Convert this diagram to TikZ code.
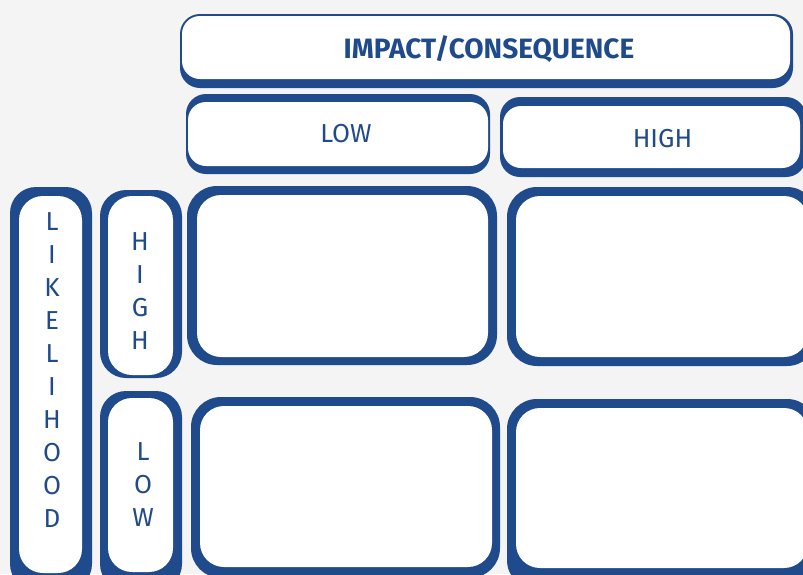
\documentclass[tikz,border=0pt]{standalone}
\usepackage{fontspec}
\setmainfont{Fira Sans}
\definecolor{bb}{HTML}{1F4A8B}
\definecolor{bgc}{HTML}{F4F4F4}
\begin{document}
\begin{tikzpicture}[x=1pt,y=-1pt,
  outerbox/.style={fill=bb, rounded corners=#1},
  innerbox/.style={fill=white, rounded corners=#1},
  headtxt/.style={text=bb, inner sep=0pt, anchor=base, font=\fontsize{26}{30}\selectfont},
  vtxt/.style={text=bb, inner sep=0pt, anchor=north, align=center, font=\fontsize{26}{33}\selectfont}]
\useasboundingbox (0,0) rectangle (803,574);
\clip (0,0) rectangle (803,574);
\fill[bgc] (0,0) rectangle (803,574);
% impact header
\fill[outerbox=20] (180,14) rectangle (793,88);
\fill[innerbox=18] (182,16) rectangle (790,79);
% low / high headers
\fill[outerbox=20] (186,94) rectangle (490,174);
\fill[innerbox=18] (188,102) rectangle (488,166);
\fill[outerbox=20] (500,97) rectangle (806,177);
\fill[innerbox=18] (503,106) rectangle (800,168);
% likelihood column
\fill[outerbox=26] (10,187) rectangle (92,590);
\fill[innerbox=24] (19,196) rectangle (82,573);
% high / low rows
\fill[outerbox=26] (100,190) rectangle (182,378);
\fill[innerbox=24] (108,196) rectangle (173,375);
\fill[outerbox=26] (100,391) rectangle (182,590);
\fill[innerbox=24] (108,398) rectangle (173,572);
% cells
\fill[outerbox=30] (187,186) rectangle (497,365);
\fill[innerbox=24] (197,195) rectangle (488,357);
\fill[outerbox=30] (507,187) rectangle (817,366);
\fill[innerbox=24] (516,196) rectangle (808,357);
\fill[outerbox=30] (191,397) rectangle (500,578);
\fill[innerbox=24] (200,406) rectangle (492,567);
\fill[outerbox=30] (507,399) rectangle (817,590);
\fill[innerbox=24] (516,408) rectangle (808,568);
% texts
\node[headtxt, font=\fontsize{28}{32}\selectfont\bfseries] (impact) at (489,58.5) {IMPACT/CONSEQUENCE};
\node[headtxt] (lowh) at (346,142) {LOW};
\node[headtxt] (highh) at (662.5,147) {HIGH};
\node[vtxt] (likelihood) at (52,212) {L\\I\\K\\E\\L\\I\\H\\O\\O\\D};
\node[vtxt] (highv) at (140,232) {H\\I\\G\\H};
\node[vtxt] (lowv) at (143,442) {L\\O\\W};
\end{tikzpicture}
\end{document}
